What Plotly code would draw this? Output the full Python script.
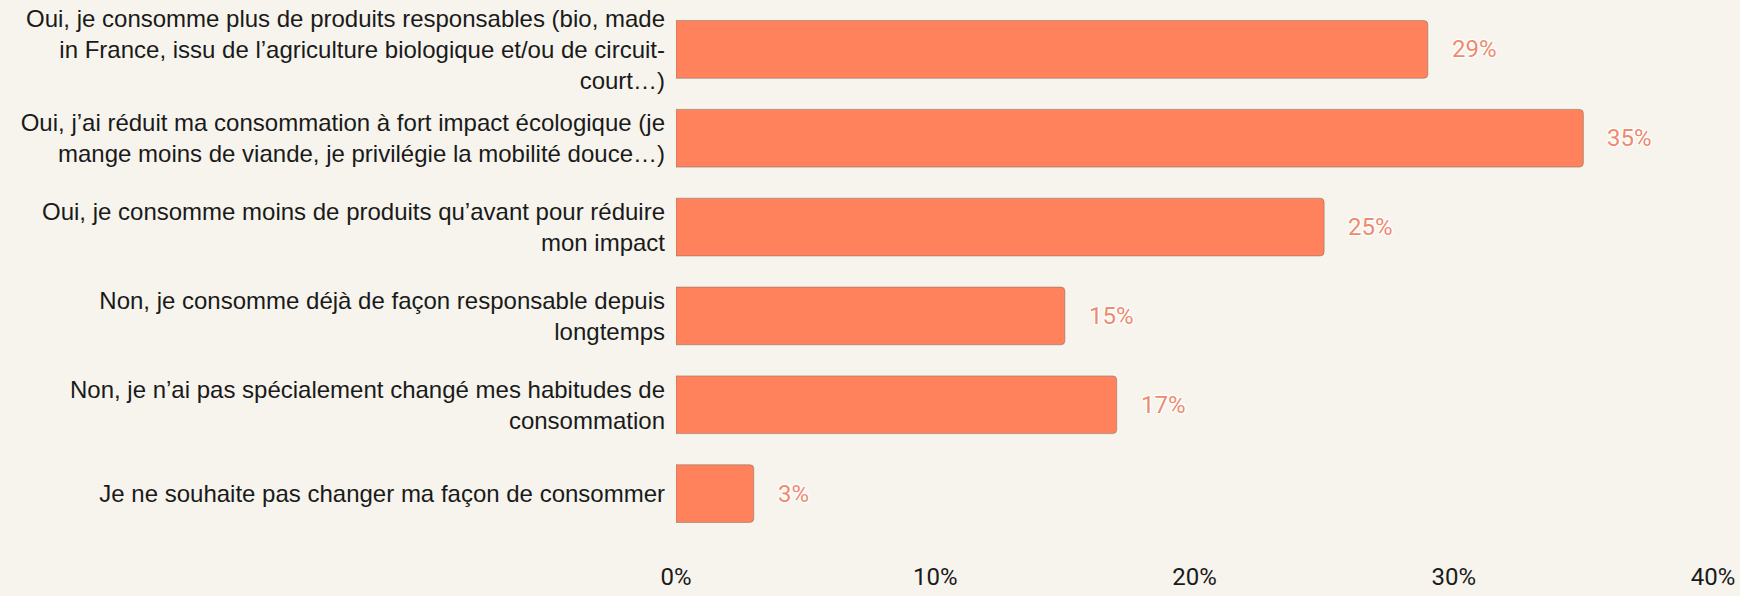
import plotly.graph_objects as go

BG = "#F6F4ED"
BAR = "#FF825C"
LABEL = "#EE8A6E"
INK = "#1a1a1a"

answers = [
    "Oui, je consomme plus de produits responsables (bio, made<br>in France, issu de l’agriculture biologique et/ou de circuit-<br>court…)",
    "Oui, j’ai réduit ma consommation à fort impact écologique (je<br>mange moins de viande, je privilégie la mobilité douce…)",
    "Oui, je consomme moins de produits qu’avant pour réduire<br>mon impact",
    "Non, je consomme déjà de façon responsable depuis<br>longtemps",
    "Non, je n’ai pas spécialement changé mes habitudes de<br>consommation",
    "Je ne souhaite pas changer ma façon de consommer",
]
shares = [29, 35, 25, 15, 17, 3]

fig = go.Figure()
fig.add_trace(
    go.Bar(
        x=shares,
        y=answers,
        orientation="h",
        marker=dict(color=BAR, line=dict(color="rgba(110,100,90,0.45)", width=1)),
        hoverinfo="x+y",
    )
)

# value labels, a bit away from the bar end, with a white halo
halo = "-1px -1px 1px #fff, 1px -1px 1px #fff, -1px 1px 1px #fff, 1px 1px 1px #fff, 0 0 3px #fff"
for v, a in zip(shares, answers):
    fig.add_annotation(
        x=v, y=a, text=f"{v}%", showarrow=False,
        xanchor="left", xshift=22,
        font=dict(family="Roboto", size=24, color=LABEL, shadow=halo),
    )

fig.update_layout(
    width=1740,
    height=596,
    paper_bgcolor=BG,
    plot_bgcolor=BG,
    margin=dict(l=676, r=26, t=5, b=52),
    bargap=0.35,
    barcornerradius=4,
    showlegend=False,
)
fig.update_xaxes(
    range=[0, 40],
    dtick=10,
    ticksuffix="%",
    showgrid=False,
    zeroline=False,
    showline=False,
    ticklabelstandoff=22,
    tickfont=dict(family="Roboto", size=24, color=INK),
)
fig.update_yaxes(
    autorange="reversed",
    showgrid=False,
    ticklabelstandoff=10,
    tickfont=dict(family="Liberation Sans", size=24, color=INK),
)

fig.write_html(
    "out.html",
    config={"displayModeBar": False},
    post_script="document.body.style.margin='0';",
)
